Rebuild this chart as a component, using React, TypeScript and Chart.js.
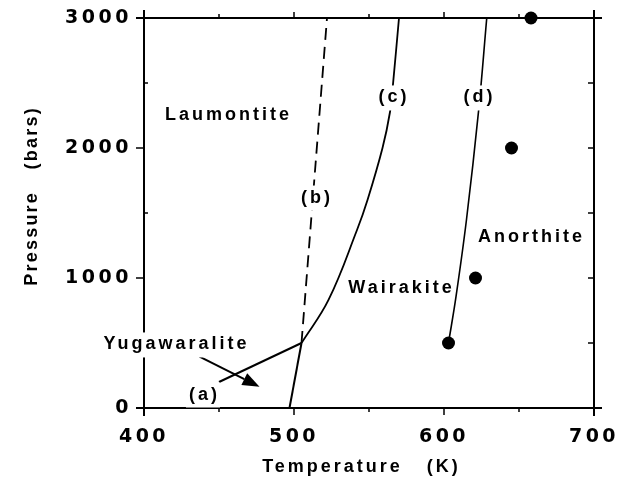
import React, { useEffect, useRef } from 'react';
import { Chart, registerables } from 'chart.js';

Chart.register(...registerables);

// ---- data ----
const xTicks = [400, 500, 600, 700];
const yTicks = [0, 1000, 2000, 3000];
const xMinor = [450, 550, 650];
const yMinor = [500, 1500, 2500];

const lineA_T = [450, 505];
const lineA_P = [200, 500];
const baseLine_T = [497, 505];
const baseLine_P = [0, 500];
const lineB_T = [505, 522];
const lineB_P = [500, 3000];
const lineC_T = [505, 523, 542, 549, 559, 564, 566, 570];
const lineC_P = [500, 831, 1369, 1600, 2000, 2277, 2492, 3000];
const lineD_T = [603, 608, 615, 623, 628.5];
const lineD_P = [500, 856, 1450, 2280, 3000];
const dots_T = [603, 621, 645, 658];
const dots_P = [500, 1000, 2000, 3000];

const labelText = ['Laumontite', '(c)', '(d)', '(b)', 'Anorthite', 'Wairakite', 'Yugawaralite', '(a)'];
const labelT = [455.3, 565.7, 622.7, 514.3, 657.3, 570.7, 420.7, 439.3];
const labelP = [2262, 2385, 2385, 1615, 1327, 938, 485, 100];

const arrowT = [437, 477];
const arrowP = [395, 164];

const xTitle = 'Temperature   (K)';
const yTitle = 'Pressure   (bars)';

const pts = (xs: number[], ys: number[]) => xs.map((x, i) => ({ x, y: ys[i] }));

const TEXT_FONT = 'bold 18px "Liberation Sans", Arial, sans-serif';
const TICK_LS = '3.5px';
const TEXT_LS = 3;

const overlay = {
  id: 'overlay',
  beforeLayout(chart: any) {
    chart.ctx.letterSpacing = TICK_LS;
  },
  beforeDraw(chart: any) {
    chart.ctx.letterSpacing = TICK_LS;
  },
  afterDraw(chart: any) {
    const ctx: CanvasRenderingContext2D = chart.ctx;
    const xs = chart.scales.x;
    const ys = chart.scales.y;
    const X = (v: number) => xs.getPixelForValue(v);
    const Y = (v: number) => ys.getPixelForValue(v);
    const L = X(400), R = X(700), T = Y(3000), B = Y(0);
    ctx.save();
    ctx.strokeStyle = '#000';
    ctx.fillStyle = '#000';
    ctx.lineCap = 'butt';
    // frame with crossing corners
    ctx.lineWidth = 2;
    const ext = 8;
    ctx.beginPath();
    ctx.moveTo(L - ext, B); ctx.lineTo(R + ext, B);
    ctx.moveTo(L - ext, T); ctx.lineTo(R + ext, T);
    ctx.moveTo(L, T - ext); ctx.lineTo(L, B + ext);
    ctx.moveTo(R, T - ext); ctx.lineTo(R, B + ext);
    ctx.stroke();
    ctx.lineWidth = 1.5;
    ctx.beginPath();
    xTicks.forEach((v) => {
      const px = X(v);
      ctx.moveTo(px, B); ctx.lineTo(px, B + 7);
      ctx.moveTo(px, T); ctx.lineTo(px, T - 6);
    });
    xMinor.forEach((v) => {
      const px = X(v);
      ctx.moveTo(px, B); ctx.lineTo(px, B + 4);
      ctx.moveTo(px, T); ctx.lineTo(px, T - 4);
    });
    yTicks.forEach((v) => {
      const py = Y(v);
      ctx.moveTo(L, py); ctx.lineTo(L - 8, py);
      ctx.moveTo(R, py); ctx.lineTo(R - 6, py);
    });
    yMinor.forEach((v) => {
      const py = Y(v);
      ctx.moveTo(L, py); ctx.lineTo(L + 4, py);
      ctx.moveTo(R, py); ctx.lineTo(R - 6, py);
    });
    ctx.stroke();

    // arrow
    const ax0 = X(arrowT[0]), ay0 = Y(arrowP[0]);
    const ax1 = X(arrowT[1]), ay1 = Y(arrowP[1]);
    const ang = Math.atan2(ay1 - ay0, ax1 - ax0);
    const hl = 17, hw = 6.5;
    const bx = ax1 - hl * Math.cos(ang), by = ay1 - hl * Math.sin(ang);
    ctx.lineWidth = 2;
    ctx.beginPath();
    ctx.moveTo(ax0, ay0); ctx.lineTo(bx, by);
    ctx.stroke();
    ctx.beginPath();
    ctx.moveTo(ax1, ay1);
    ctx.lineTo(bx + hw * Math.sin(ang), by - hw * Math.cos(ang));
    ctx.lineTo(bx - hw * Math.sin(ang), by + hw * Math.cos(ang));
    ctx.closePath();
    ctx.fill();

    // labels
    ctx.font = TEXT_FONT;
    (ctx as any).letterSpacing = TEXT_LS + 'px';
    ctx.textAlign = 'left';
    ctx.textBaseline = 'alphabetic';
    labelText.forEach((t, i) => {
      const cx = X(labelT[i]);
      const cy = Y(labelP[i]);
      const m = ctx.measureText(t);
      const w = m.width - TEXT_LS;
      const asc = m.actualBoundingBoxAscent, desc = m.actualBoundingBoxDescent;
      const base = cy + (asc - desc) / 2;
      const x0 = cx - w / 2;
      ctx.fillStyle = '#fff';
      ctx.fillRect(x0 - 3, base - asc - 4, w + 6, asc + desc + 8);
      ctx.fillStyle = '#000';
      ctx.fillText(t, x0, base);
    });

    // axis titles
    const drawCentered = (t: string, cx: number, cy: number, ls: number) => {
      (ctx as any).letterSpacing = ls + 'px';
      const m = ctx.measureText(t);
      const w = m.width - ls;
      const asc = m.actualBoundingBoxAscent, desc = m.actualBoundingBoxDescent;
      ctx.fillText(t, cx - w / 2, cy + (asc - desc) / 2);
    };
    drawCentered(xTitle, 360, 467, 3);
    ctx.save();
    ctx.translate(32, 197);
    ctx.rotate(-Math.PI / 2);
    drawCentered(yTitle, 0, 0, 2.2);
    ctx.restore();
    ctx.restore();
  },
};

export default function App() {
  const ref = useRef<HTMLCanvasElement | null>(null);
  useEffect(() => {
    if (!ref.current) return;
    const lineStyle = {
      showLine: true,
      borderColor: '#000',
      borderWidth: 2,
      pointRadius: 0,
      fill: false,
    };
    const tickFont = { family: '"DejaVu Sans"', weight: 'bold', size: 19 };
    const chart = new Chart(ref.current, {
      type: 'scatter',
      data: {
        datasets: [
          { ...lineStyle, data: pts(lineA_T, lineA_P) },
          { ...lineStyle, data: pts(baseLine_T, baseLine_P) },
          { ...lineStyle, borderWidth: 1.8, borderDash: [12, 7], data: pts(lineB_T, lineB_P) },
          { ...lineStyle, borderWidth: 1.8, tension: 0.4, data: pts(lineC_T, lineC_P) },
          { ...lineStyle, borderWidth: 1.6, tension: 0.4, data: pts(lineD_T, lineD_P) },
          {
            showLine: false,
            data: pts(dots_T, dots_P),
            pointRadius: 6.5,
            pointBackgroundColor: '#000',
            pointBorderColor: '#000',
            pointBorderWidth: 0,
            clip: false,
          } as any,
        ],
      },
      options: {
        responsive: false,
        animation: false,
        events: [],
        layout: { padding: { left: 0, top: 18, right: 24, bottom: 0 } },
        plugins: { legend: { display: false }, tooltip: { enabled: false }, title: { display: false } },
        scales: {
          x: {
            type: 'linear',
            position: 'bottom',
            min: 400,
            max: 700,
            afterBuildTicks: (s: any) => {
              s.ticks = xTicks.map((v) => ({ value: v }));
            },
            afterFit: (s: any) => {
              s.height = 78;
              s.paddingLeft = 0;
              s.paddingRight = 0;
            },
            ticks: {
              autoSkip: false,
              maxRotation: 0,
              padding: 18,
              color: '#000',
              font: tickFont,
              callback: (v: any) => String(v),
            },
            grid: { display: false, drawTicks: false },
            border: { display: false },
          },
          y: {
            type: 'linear',
            min: 0,
            max: 3000,
            afterBuildTicks: (s: any) => {
              s.ticks = yTicks.map((v) => ({ value: v }));
            },
            afterFit: (s: any) => {
              s.width = 144;
              s.paddingTop = 0;
              s.paddingBottom = 0;
            },
            ticks: {
              autoSkip: false,
              padding: 12,
              color: '#000',
              font: tickFont,
              callback: (v: any) => String(v),
            },
            grid: { display: false, drawTicks: false },
            border: { display: false },
          },
        },
      },
      plugins: [overlay],
    } as any);
    return () => chart.destroy();
  }, []);
  return (
    <div style={{ position: 'absolute', left: 0, top: 0, width: 618, height: 486, background: '#fff' }}>
      <canvas ref={ref} width={618} height={486} />
    </div>
  );
}
